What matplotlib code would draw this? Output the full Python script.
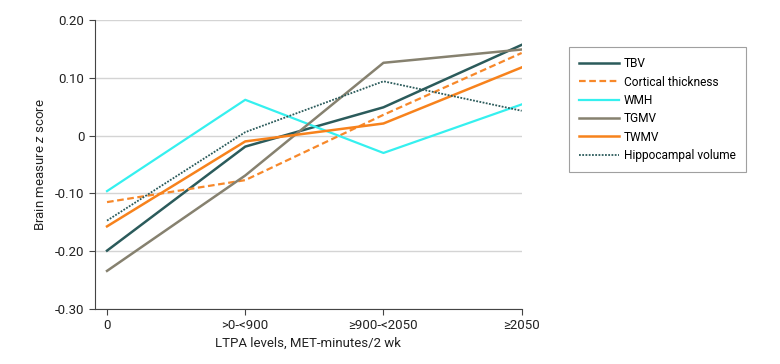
import matplotlib.pyplot as plt

categories = ["0", ">0-<900", "≥900-<2050", "≥2050"]
series_names = ["TBV", "Cortical thickness", "WMH", "TGMV", "TWMV", "Hippocampal volume"]
tbv = [-0.199, -0.019, 0.049, 0.157]
cortical = [-0.115, -0.077, 0.036, 0.143]
wmh = [-0.096, 0.062, -0.030, 0.054]
tgmv = [-0.234, -0.069, 0.126, 0.149]
twmv = [-0.157, -0.010, 0.021, 0.118]
hippo = [-0.147, 0.006, 0.094, 0.043]
yticks = [-0.30, -0.20, -0.10, 0, 0.10, 0.20]
ytick_labels = ["-0.30", "-0.20", "-0.10", "0", "0.10", "0.20"]

plt.rcParams['font.family'] = ['Roboto', 'DejaVu Sans']
plt.rcParams['mathtext.fontset'] = 'custom'
plt.rcParams['mathtext.it'] = 'Roboto:italic'
plt.rcParams['mathtext.rm'] = 'Roboto'

fig = plt.figure(figsize=(7.8, 3.64), dpi=100)
ax = fig.add_axes([0.1218, 0.151, 0.547, 0.794])

x = range(len(categories))
ax.plot(x, tbv, color="#2b5b5b", lw=1.8, label=series_names[0])
ax.plot(x, cortical, color="#f7882a", lw=1.6, ls=(0, (3, 1.6)), label=series_names[1])
ax.plot(x, wmh, color="#35f0ef", lw=1.6, label=series_names[2])
ax.plot(x, tgmv, color="#86816f", lw=1.8, label=series_names[3])
ax.plot(x, twmv, color="#f7821c", lw=1.8, label=series_names[4])
ax.plot(x, hippo, color="#2b5b5b", lw=1.3, ls=(0, (1, 0.8)), label=series_names[5])

ax.set_ylim(-0.30, 0.20)
ax.set_xlim(-0.087, 3.0)
ax.set_yticks(yticks)
ax.set_yticklabels(ytick_labels)
ax.set_xticks(list(x))
ax.set_xticklabels(categories)
ax.yaxis.grid(True, color="#d4d4d4", lw=1)
ax.set_axisbelow(True)
for s in ["top", "right"]:
    ax.spines[s].set_visible(False)
for s in ["left", "bottom"]:
    ax.spines[s].set_color("#444444")
    ax.spines[s].set_linewidth(0.8)
ax.tick_params(axis="both", colors="#444444", labelcolor="#222222", labelsize=9.5, length=4, width=0.8)
ax.set_xlabel("LTPA levels, MET-minutes/2 wk", fontsize=9.5, color="#222222", labelpad=3)
ax.set_ylabel(r"Brain measure $\it{z}$ score", fontsize=9.5, color="#222222", labelpad=6)

leg = ax.legend(loc="upper left", bbox_to_anchor=(569 / 780, 1 - 47 / 364),
                bbox_transform=fig.transFigure, borderaxespad=0, fontsize=8.6,
                frameon=True, fancybox=False, edgecolor="#888888", handlelength=3.3,
                handletextpad=0.45, labelspacing=0.45, borderpad=0.85)
leg.get_frame().set_linewidth(0.8)

fig.savefig("out.png", dpi=100)
